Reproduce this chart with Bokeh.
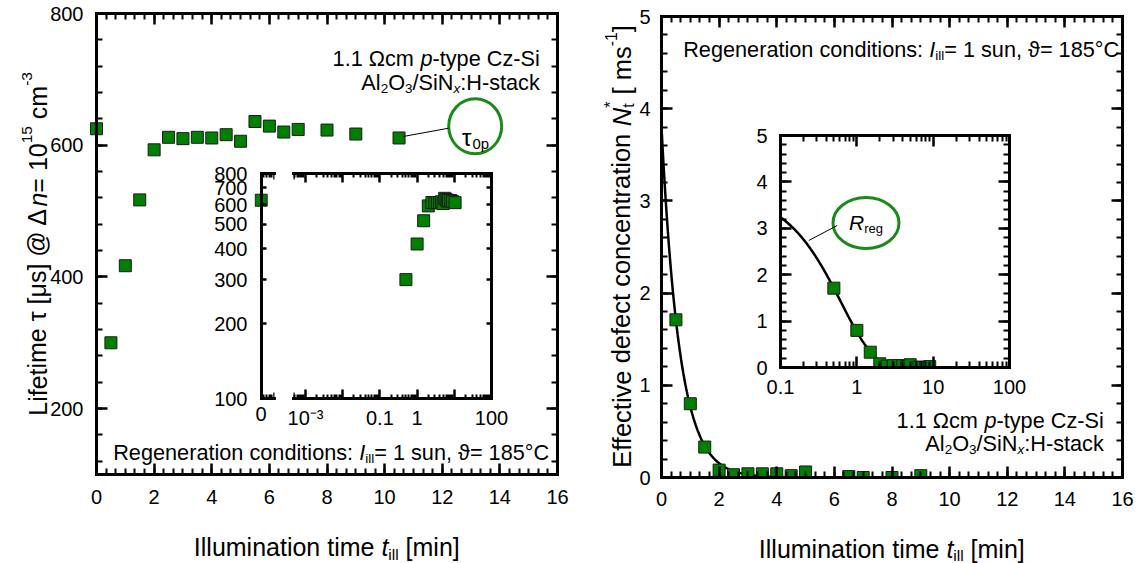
import math

import numpy as np
from bokeh.core.properties import field, value
from bokeh.embed import file_html
from bokeh.layouts import column
from bokeh.models import (ColumnDataSource, CustomJSTickFormatter, FixedTicker,
                          LinearAxis, LogAxis, Range1d)
from bokeh.plotting import figure
from bokeh.resources import INLINE

# ---------------- data ----------------
# carrier lifetime during regeneration (left panel)
t_ill_min = [0, 0.5, 1, 1.5, 2, 2.5, 3, 3.5, 4, 4.5, 5, 5.5, 6, 6.5, 7, 8, 9, 10.5]
lifetime_us = [625, 300, 417, 517, 593, 612, 610, 612, 611, 616, 606, 636, 629,
               620, 624, 623, 617, 611]

# effective defect concentration (right panel)
t_defect_min = [0.5, 1, 1.5, 2, 2.5, 3, 3.5, 4, 4.5, 5, 6.5, 7, 8, 9]
nt_star = [1.71, 0.80, 0.33, 0.08, 0.03, 0.04, 0.04, 0.04, 0.02, 0.06, 0.01,
           0.0, 0.0, 0.02]

# exponential regeneration fit  N*(t) = N0 * exp(-R_reg * t)
fit_n0 = 3.8        # ms^-1
fit_r_reg = 1.6     # min^-1

time_ticks = [0, 2, 4, 6, 8, 10, 12, 14, 16]
lifetime_ticks = [200, 400, 600, 800]
inset_lifetime_ticks = [100, 200, 300, 400, 500, 600, 700, 800]
inset_log_time_ticks = [1e-3, 1e-2, 0.1, 1, 10, 100]
inset_log_time_labels = ["10⁻³", "", "0.1", "1", "", "100"]
nt_ticks = [0, 1, 2, 3, 4, 5]
inset_nt_time_ticks = [0.1, 1, 10, 100]
inset_nt_time_labels = ["0.1", "1", "10", "100"]

# ---------------- style ----------------
FONT = "Liberation Sans"
TICK_FS = "20px"
FS_ANN = 21.7
FS_TITLE = 25
GREEN = "#008000"
EDGE = "#1c1c1c"
RING = "#1b8a1b"
PAGE_W, PAGE_H = 1136, 563


def even_minors(majors, n):
    step = (majors[1] - majors[0]) / n
    start = majors[0] - (majors[1] - majors[0])
    count = int(round((majors[-1] - start) / step))
    return [start + i * step for i in range(count + 1)]


def log_minors(e0, e1):
    return [m * 10.0 ** k for k in range(e0, e1) for m in range(2, 10)]


def panel_fig(left, top, width, height, xr, yr, bl, br, bt, bb,
              x_log=False, y_log=False, fill=True):
    p = figure(width=width, height=height, x_range=xr, y_range=yr,
               x_axis_type="log" if x_log else "linear",
               y_axis_type="log" if y_log else "linear",
               x_axis_location=None, y_axis_location=None,
               output_backend="svg", toolbar_location=None,
               min_border_left=bl, min_border_right=br,
               min_border_top=bt, min_border_bottom=bb)
    p.frame_align = False
    p.xgrid.visible = False
    p.ygrid.visible = False
    p.outline_line_color = None
    if not fill:
        p.background_fill_alpha = 0
        p.border_fill_alpha = 0
    p.styles = {"position": "absolute", "left": f"{left}px", "top": f"{top}px"}
    return p


def axis(p, side, ticker, *, log=False, labels=None, size_in=(11, 6),
         standoff=10, width=3, fixed=None, bounds=None, rule=True):
    ax = (LogAxis if log else LinearAxis)(ticker=ticker)
    ax.axis_line_width = width
    ax.axis_line_color = "black" if rule else None
    ax.axis_line_cap = "square"
    ax.major_tick_in, ax.minor_tick_in = size_in
    ax.major_tick_out = 0
    ax.minor_tick_out = 0
    ax.major_tick_line_width = 2.5
    ax.minor_tick_line_width = 2
    if not rule:
        ax.major_tick_line_color = None
        ax.minor_tick_line_color = None
    ax.major_label_text_font = FONT
    ax.major_label_text_color = "black"
    if labels is None:
        ax.major_label_text_font_size = "0px"
        ax.major_label_standoff = 0
        ax.formatter = CustomJSTickFormatter(code="return ''")
    else:
        ax.major_label_text_font_size = TICK_FS
        ax.major_label_standoff = standoff
        if labels != "auto":
            ax.major_label_overrides = labels
    if fixed is not None:
        ax.fixed_location = fixed
    if bounds is not None:
        ax.bounds = bounds
    p.add_layout(ax, side)
    return ax


def break_mark(p, side, at, fixed, log=False):
    ax = (LogAxis if log else LinearAxis)(ticker=FixedTicker(ticks=[at], minor_ticks=[]))
    ax.axis_line_color = None
    ax.major_tick_in = 6
    ax.major_tick_out = 9
    ax.major_tick_line_width = 2.5
    ax.minor_tick_line_color = None
    ax.major_label_text_font_size = "0px"
    ax.major_label_standoff = 0
    ax.formatter = CustomJSTickFormatter(code="return ''")
    ax.fixed_location = fixed
    p.add_layout(ax, side)


def squares(p, x, y):
    p.scatter(x, y, marker="square", size=12, fill_color=GREEN,
              line_color=EDGE, line_width=1)


# ---------------- left panel: lifetime ----------------
px_per_min_L = (557 - 96) / 16
figL = panel_fig(0, 0, 580, 563, (-(96 - 87) / px_per_min_L, 16), (100, 800),
                 87, 23, 13, 89)
life_ticker = FixedTicker(ticks=lifetime_ticks, minor_ticks=even_minors(lifetime_ticks, 5))
time_ticker = FixedTicker(ticks=time_ticks, minor_ticks=even_minors(time_ticks, 6))
# labels sit at the frame edge, the ruled axis itself at t = 0
axis(figL, "left", life_ticker, labels="auto", standoff=4, rule=False)
axis(figL, "left", life_ticker, fixed=0)
axis(figL, "right", life_ticker)
axis(figL, "below", time_ticker, labels="auto", standoff=15, bounds=(0, 16))
axis(figL, "above", time_ticker, bounds=(0, 16))
squares(figL, t_ill_min, lifetime_us)

# inset, broken log-time axis: t = 0 segment
t0_idx = [i for i, t in enumerate(t_ill_min) if t == 0]
tp_idx = [i for i, t in enumerate(t_ill_min) if t > 0]
life_log_ticker = FixedTicker(ticks=inset_lifetime_ticks, minor_ticks=[])
life_log_labels = {t: str(t) for t in inset_lifetime_ticks}

figI0 = panel_fig(200, 143, 79, 315, (-0.5, 1.0), (100, 800), 54, 5, 30, 60,
                  y_log=True, fill=False)
zero_ticker = FixedTicker(ticks=[0], minor_ticks=[0.2, 0.4, 0.6, 0.8])
axis(figI0, "left", life_log_ticker, log=True, labels=life_log_labels,
     standoff=7, rule=False)
axis(figI0, "left", life_log_ticker, log=True, size_in=(5, 0), fixed=0)
axis(figI0, "below", zero_ticker, labels={0: "0"}, size_in=(9, 4), standoff=8,
     bounds=(0, 1.0))
axis(figI0, "above", zero_ticker, size_in=(9, 4), bounds=(0, 1.0))
break_mark(figI0, "below", 0.99, 100)
break_mark(figI0, "above", 0.99, 800)
squares(figI0, [t_ill_min[i] for i in t0_idx], [lifetime_us[i] for i in t0_idx])

# inset, log-time segment
figIL = panel_fig(268, 143, 253, 315, (4.75e-4, 100), (100, 800), 25, 30, 30, 60,
                  x_log=True, y_log=True, fill=False)
log_time_ticker = FixedTicker(ticks=inset_log_time_ticks, minor_ticks=log_minors(-4, 2))
axis(figIL, "right", life_log_ticker, log=True, size_in=(5, 0))
axis(figIL, "below", log_time_ticker, log=True,
     labels=dict(zip(inset_log_time_ticks, inset_log_time_labels)),
     size_in=(9, 4), standoff=8)
axis(figIL, "above", log_time_ticker, log=True, size_in=(9, 4))
break_mark(figIL, "below", 4.8e-4, 100, log=True)
break_mark(figIL, "above", 4.8e-4, 800, log=True)
squares(figIL, [t_ill_min[i] for i in tp_idx], [lifetime_us[i] for i in tp_idx])

# ---------------- right panel: defect concentration ----------------
figR = panel_fig(580, 0, 556, 563, (0, 16), (0, 5), 81, 14, 16, 86)
nt_ticker = FixedTicker(ticks=nt_ticks, minor_ticks=even_minors(nt_ticks, 5))
axis(figR, "left", nt_ticker, labels="auto", standoff=11)
axis(figR, "right", nt_ticker)
axis(figR, "below", time_ticker, labels="auto", standoff=14)
axis(figR, "above", time_ticker)

t_fit = np.linspace(0, 16, 801)
figR.line(t_fit, fit_n0 * np.exp(-fit_r_reg * t_fit), line_color="black", line_width=2.5)
squares(figR, t_defect_min, nt_star)

figRI = panel_fig(730, 115, 309, 292, (0.1, 100), (0, 5), 50, 30, 20, 40,
                  x_log=True, fill=False)
nt_log_ticker = FixedTicker(ticks=inset_nt_time_ticks, minor_ticks=log_minors(-1, 2))
axis(figRI, "left", nt_ticker, labels="auto", size_in=(11, 6), standoff=13)
axis(figRI, "right", nt_ticker, size_in=(11, 6))
axis(figRI, "below", nt_log_ticker, log=True,
     labels=dict(zip(inset_nt_time_ticks, inset_nt_time_labels)),
     size_in=(11, 6), standoff=12)
axis(figRI, "above", nt_log_ticker, log=True, size_in=(11, 6))
t_fit_log = np.geomspace(0.1, 100, 400)
figRI.line(t_fit_log, fit_n0 * np.exp(-fit_r_reg * t_fit_log), line_color="black",
           line_width=2.5)
squares(figRI, t_defect_min, nt_star)

# ---------------- text layer (page pixel coordinates) ----------------
ADV = {" ": 278, ".": 278, ",": 278, ":": 278, "=": 584, "-": 333, "[": 278,
       "]": 278, "/": 278, "@": 1015, "°": 400, "*": 389,
       "A": 667, "C": 722, "E": 667, "H": 722, "I": 278, "L": 556, "N": 722,
       "O": 778, "R": 722, "S": 667,
       "a": 556, "c": 500, "d": 556, "e": 556, "f": 278, "g": 556, "i": 222,
       "k": 500, "l": 222, "m": 833, "n": 556, "o": 556, "p": 556, "r": 333,
       "s": 500, "t": 278, "u": 556, "v": 500, "x": 500, "y": 500, "z": 500,
       "τ": 440, "μ": 576, "Δ": 668, "Ω": 768, "ϑ": 560}
SUB_SCALE, SUB_DROP, SUP_RISE = 0.62, 0.28, 0.42

pieces = {"normal": [], "italic": []}


def text_w(s):
    return sum(ADV.get(ch, 556) for ch in s) / 1000.0


def rich(parts, x, y_px, size, align="left", angle=0.0):
    """Lay out mixed-style text along one baseline (x, y_px in page pixels)."""
    y = PAGE_H - y_px
    laid = []
    d = 0.0
    for txt, kind in parts:
        if kind in ("n", "i"):
            laid.append((d, 0.0, txt, size, kind == "i"))
            d += text_w(txt) * size
        elif kind in ("sub", "subi"):
            fs = size * SUB_SCALE
            laid.append((d, -SUB_DROP * size, txt, fs, kind == "subi"))
            d += text_w(txt) * fs
        elif kind == "sup":
            fs = size * SUB_SCALE
            laid.append((d, SUP_RISE * size, txt, fs, False))
            d += text_w(txt) * fs
        elif kind == "subsup":
            lo, hi = txt
            fs = size * SUB_SCALE
            laid.append((d, -SUB_DROP * size, lo, fs, False))
            laid.append((d, SUP_RISE * size, hi, fs, False))
            d += max(text_w(lo), text_w(hi)) * fs
    shift = {"left": 0.0, "center": -d / 2, "right": -d}[align]
    ca, sa = math.cos(angle), math.sin(angle)
    for dd, v, txt, fs, it in laid:
        # svg drops leading blanks, so advance past them explicitly
        lead = len(txt) - len(txt.lstrip())
        a = dd + shift + text_w(txt[:lead]) * fs
        key = "italic" if it else "normal"
        pieces[key].append((x + a * ca - v * sa, y + a * sa + v * ca, txt.strip(),
                            f"{fs:.1f}px", angle))


sample = [("1.1 Ωcm ", "n"), ("p", "i"), ("-type Cz-Si", "n")]
stack = [("Al", "n"), ("2", "sub"), ("O", "n"), ("3", "sub"), ("/SiN", "n"),
         ("x", "subi"), (":H-stack", "n")]
regen = [("Regeneration conditions: ", "n"), ("I", "i"), ("ill", "sub"),
         ("= 1 sun, ϑ= 185°C", "n")]
x_title = [("Illumination time ", "n"), ("t", "i"), ("ill", "sub"), (" [min]", "n")]

# left panel texts
rich(sample, 539.3, 58.3, FS_ANN, "right")
rich(stack, 539.3, 81.7, FS_ANN, "right")
rich(regen, 112.7, 451.7, FS_ANN, "left")
rich([("τ", "n"), ("0p", "sub")], 475.0, 136.5, 24, "center")
rich(x_title, 326.3, 546.7, FS_TITLE, "center")
rich([("Lifetime τ [μs] @ Δ", "n"), ("n", "i"), ("= 10", "n"), ("15", "sup"),
      (" cm", "n"), ("-3", "sup")], 37.0, 243.4, FS_TITLE, "center", math.pi / 2)

# right panel texts
rich(regen, 682.7, 49.3, FS_ANN, "left")
rich(sample, 1103.3, 420.0, FS_ANN, "right")
rich(stack, 1103.3, 442.7, FS_ANN, "right")
rich([("R", "i"), ("reg", "sub")], 865.5, 221.7, 21, "center")
rich(x_title, 891.3, 548.0, FS_TITLE, "center")
rich([("Effective defect concentration ", "n"), ("N", "i"), (("t", "*"), "subsup"),
      (" [ ms", "n"), ("-1", "sup"), ("]", "n")], 621.0, 246.0, 25.5, "center",
     math.pi / 2)

overlay = figure(width=PAGE_W, height=PAGE_H, x_range=Range1d(0, PAGE_W),
                 y_range=Range1d(0, PAGE_H), x_axis_location=None,
                 y_axis_location=None, output_backend="svg",
                 toolbar_location=None, min_border=0)
overlay.frame_align = False
overlay.xgrid.visible = False
overlay.ygrid.visible = False
overlay.outline_line_color = None
overlay.background_fill_alpha = 0
overlay.border_fill_alpha = 0
overlay.styles = {"position": "absolute", "left": "0px", "top": "0px"}

# annotation rings (tau_0p and R_reg) with their leader lines
overlay.ellipse(x=[474.7, 865.5], y=[PAGE_H - 125.8, PAGE_H - 222.5],
                width=[53, 66], height=[55, 51], fill_color=None,
                line_color=RING, line_width=3)
overlay.segment(x0=[402.7, 808.3], y0=[PAGE_H - 136.0, PAGE_H - 240.0],
                x1=[448.1, 836.7], y1=[PAGE_H - 127.7, PAGE_H - 225.0],
                line_color="black", line_width=1)

for style, rows in pieces.items():
    if not rows:
        continue
    xs, ys, txts, sizes, angs = zip(*rows)
    src = ColumnDataSource(dict(x=list(xs), y=list(ys), text=list(txts),
                                size=list(sizes), angle=list(angs)))
    overlay.text(x="x", y="y", text="text", angle="angle", source=src,
                 text_font=value(FONT), text_font_size=field("size"),
                 text_font_style=style, text_align="left",
                 text_baseline="alphabetic", text_color="black")

page = column(figL, figR, figI0, figIL, figRI, overlay, width=PAGE_W, height=PAGE_H,
              styles={"position": "relative"})

with open("out.html", "w") as fh:
    fh.write(file_html(page, INLINE))
